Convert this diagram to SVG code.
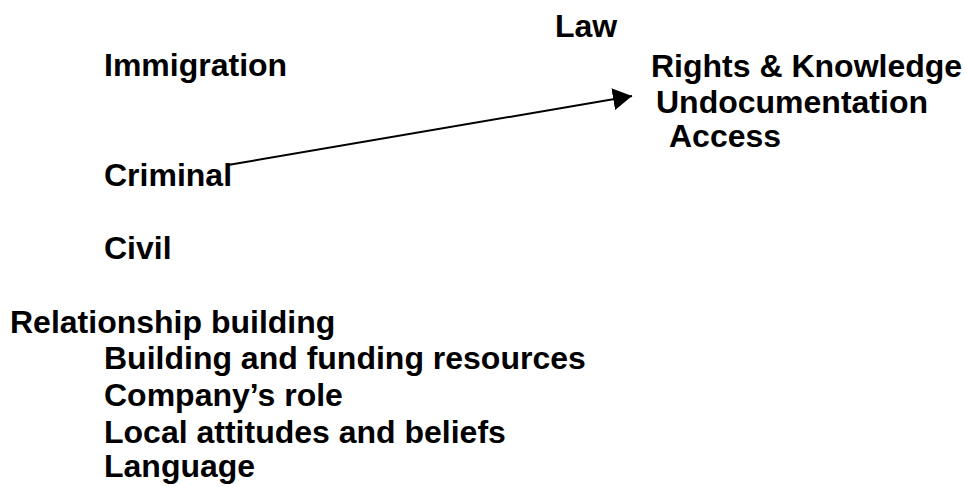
<svg xmlns="http://www.w3.org/2000/svg" width="967" height="487" viewBox="0 0 967 487">
<style>
text { font-family: "Liberation Sans", Arial, sans-serif; font-weight: bold; font-size: 32px; fill: #000; }
.conn { stroke: #000; stroke-width: 2; fill: none; }
</style>
<defs>
<marker id="arrow" markerUnits="userSpaceOnUse" markerWidth="20" markerHeight="22" refX="19" refY="11" orient="auto">
<path d="M0,0 L19,11 L0,22 Z" fill="#000"/>
</marker>
</defs>
<rect width="967" height="487" fill="#fff"/>
<g id="law"><text x="555" y="37">Law</text></g>
<g id="immigration"><text x="104" y="76">Immigration</text></g>
<g id="criminal"><text x="104" y="186">Criminal</text></g>
<g id="civil"><text x="104" y="259">Civil</text></g>
<g id="rights"><text x="651" y="77">Rights &amp; Knowledge</text></g>
<g id="undocumentation"><text x="656" y="113">Undocumentation</text></g>
<g id="access"><text x="669" y="147">Access</text></g>
<g id="relationship"><text x="10" y="333">Relationship building</text></g>
<g id="building"><text x="104" y="369">Building and funding resources</text></g>
<g id="company"><text x="104" y="406">Company’s role</text></g>
<g id="local"><text x="104" y="443">Local attitudes and beliefs</text></g>
<g id="language"><text x="104" y="477">Language</text></g>
<g id="connectors">
<line class="conn" x1="228" y1="165" x2="632" y2="96" marker-end="url(#arrow)"/>
</g>
</svg>
